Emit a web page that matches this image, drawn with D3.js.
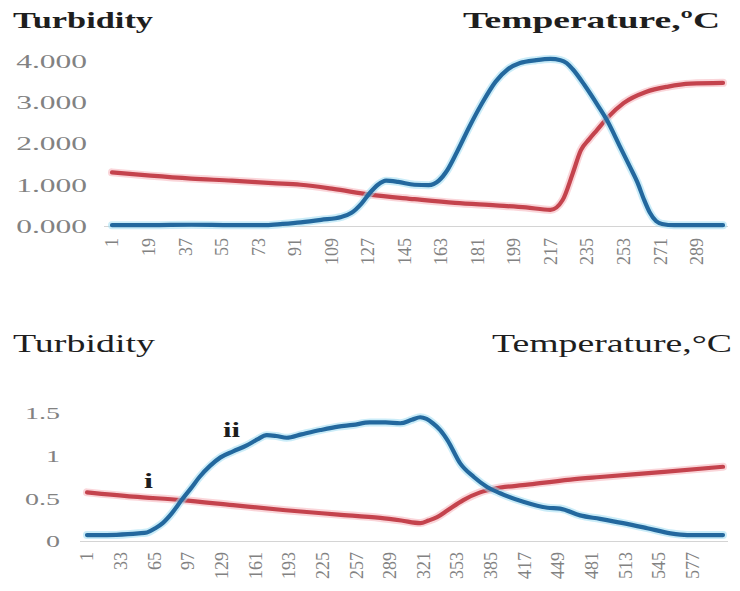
<!DOCTYPE html>
<html><head><meta charset="utf-8">
<script src="https://cdn.jsdelivr.net/npm/d3@7/dist/d3.min.js"></script>
<style>body{margin:0;background:#fff;} svg{display:block;}</style>
</head><body>
<svg id="c" width="740" height="591"></svg>
<script>
// ---------- DATA ----------
// Top chart
const topXTicks = [1,19,37,55,73,91,109,127,145,163,181,199,217,235,253,271,289];
const topYTicks = [0,1,2,3,4];
const topYLabels = ["0.000","1.000","2.000","3.000","4.000"];
const topTurbidity = [[1,0.02],[20,0.02],[40,0.03],[60,0.02],[77,0.02],[85,0.05],[94,0.09],[104,0.15],[114,0.22],[119,0.32],[124,0.55],[128,0.8],[132,1.0],[136,1.1],[142,1.07],[150,1.0],[157,0.99],[162,1.1],[166,1.34],[171,1.8],[177,2.4],[183,2.95],[190,3.5],[196,3.8],[202,3.95],[210,4.02],[217,4.05],[222,4.02],[225,3.95],[228,3.8],[234,3.4],[240,2.95],[245,2.55],[251,1.95],[256,1.45],[260,1.04],[263,0.65],[266,0.32],[269,0.12],[272,0.05],[278,0.02],[302,0.02]];
const topTemperature = [[1,1.3],[20,1.22],[40,1.15],[60,1.1],[80,1.04],[94,1.0],[110,0.9],[128,0.76],[150,0.65],[170,0.56],[190,0.5],[205,0.45],[217,0.39],[223,0.63],[228,1.28],[232,1.84],[236,2.1],[240,2.33],[245,2.62],[253,2.98],[264,3.25],[275,3.38],[286,3.45],[302,3.47]];
// Bottom chart
const botXTicks = [1,33,65,97,129,161,193,225,257,289,321,353,385,417,449,481,513,545,577];
const botYTicks = [0,0.5,1,1.5];
const botYLabels = ["0","0.5","1","1.5"];
const botTurbidity = [[1,0.07],[20,0.07],[40,0.08],[50,0.09],[58,0.1],[66,0.15],[73,0.21],[82,0.33],[91,0.48],[100,0.62],[108,0.75],[118,0.88],[128,0.98],[140,1.05],[153,1.12],[163,1.19],[172,1.24],[181,1.23],[191,1.21],[205,1.25],[223,1.3],[240,1.34],[254,1.36],[270,1.39],[285,1.39],[299,1.38],[310,1.42],[318,1.45],[324,1.43],[330,1.38],[337,1.3],[344,1.18],[356,0.91],[369,0.75],[382,0.63],[394,0.56],[416,0.46],[439,0.39],[451,0.38],[470,0.3],[489,0.26],[511,0.21],[534,0.15],[556,0.09],[572,0.07],[606,0.07]];
const botTemperature = [[1,0.57],[45,0.52],[91,0.48],[140,0.42],[190,0.36],[240,0.31],[280,0.27],[300,0.24],[318,0.21],[326,0.24],[334,0.28],[344,0.36],[359,0.48],[375,0.57],[387,0.61],[420,0.66],[461,0.72],[489,0.75],[550,0.81],[606,0.87]];

// ---------- DRAW ----------
const svg = d3.select("#c");
const BLUE="#23689e", BLUEH="#9fdcf2", RED="#c4434d", REDH="#f5b3ba";
const TICKC="#828282", TITLEC="#1e1e1e";
const STRETCH = 1.75;

function stretchText(sel, factor, anchorRight){
  sel.each(function(){
    const t=d3.select(this);
    const w=this.getComputedTextLength();
    t.attr("textLength", w*factor).attr("lengthAdjust","spacingAndGlyphs");
    if(anchorRight!==undefined){
      t.attr("text-anchor","start").attr("x", anchorRight - w*factor);
    }
  });
}

function title(x, y, txt, size, weight, width){
  const t=svg.append("text").attr("x",x).attr("y",y).text(txt)
    .attr("font-family","'Liberation Serif','DejaVu Serif',serif")
    .attr("font-size",size).attr("font-weight",weight).attr("fill",TITLEC);
  t.attr("textLength",width).attr("lengthAdjust","spacingAndGlyphs");
  return t;
}

function chart(cfg){
  const x=d3.scaleLinear().domain(cfg.xDomain).range(cfg.xRange);
  const y=d3.scaleLinear().domain(cfg.yDomain).range(cfg.yRange);
  const g=svg.append("g");
  // axis line
  g.append("line").attr("x1",cfg.axisX[0]).attr("x2",cfg.axisX[1])
    .attr("y1",y(0)+0.5).attr("y2",y(0)+0.5).attr("stroke","#d4d4d4").attr("stroke-width",1);
  // x axis
  const xa=g.append("g").attr("transform",`translate(0,${y(0)})`)
    .call(d3.axisBottom(x).tickValues(cfg.xTicks).tickSize(0).tickFormat(d3.format("d")));
  xa.select(".domain").remove();
  xa.selectAll("text")
    .attr("font-family","'Liberation Serif',serif").attr("font-size",18).attr("fill",TICKC)
    .attr("transform","rotate(-90)").attr("text-anchor","end")
    .attr("x",-cfg.xLabelGap).attr("y",0).attr("dy","0.33em");
  // y axis
  const ya=g.append("g").attr("transform",`translate(${cfg.yLabelRight},0)`)
    .call(d3.axisLeft(y).tickValues(cfg.yTicks).tickSize(0).tickFormat((d,i)=>cfg.yLabels[i]));
  ya.select(".domain").remove();
  ya.selectAll("text")
    .attr("font-family","'Liberation Serif',serif").attr("font-size",cfg.yFont).attr("fill",TICKC)
    .attr("dy","0.36em");
  stretchText(ya.selectAll("text"), STRETCH, 0);
  // lines
  const line=d3.line().x(d=>x(d[0])).y(d=>y(d[1])).curve(d3.curveMonotoneX);
  [[cfg.temp,REDH,RED],[cfg.turb,BLUEH,BLUE]].forEach(([data,h,c])=>{
    g.append("path").datum(data).attr("d",line).attr("fill","none")
      .attr("stroke",h).attr("stroke-width",8).attr("stroke-opacity",0.55)
      .attr("stroke-linejoin","round").attr("stroke-linecap","round");
    g.append("path").datum(data).attr("d",line).attr("fill","none")
      .attr("stroke",c).attr("stroke-width",4.2)
      .attr("stroke-linejoin","round").attr("stroke-linecap","round");
  });
  return {x,y};
}

chart({xDomain:[1,302], xRange:[112,723], yDomain:[0,4], yRange:[226,61],
  axisX:[104,728], xTicks:topXTicks, yTicks:topYTicks, yLabels:topYLabels,
  yLabelRight:87, yFont:18, xLabelGap:12, turb:topTurbidity, temp:topTemperature});

chart({xDomain:[1,606], xRange:[87,723], yDomain:[0,1.5], yRange:[541,413],
  axisX:[80,728], xTicks:botXTicks, yTicks:botYTicks, yLabels:botYLabels,
  yLabelRight:60, yFont:16, xLabelGap:11, turb:botTurbidity, temp:botTemperature});

// titles
title(13, 28, "Turbidity", 24, "bold", 140);
title(463, 28, "Temperature,ºC", 24, "bold", 257);
title(13, 352, "Turbidity", 25, "normal", 142);
title(492, 352, "Temperature,°C", 25, "normal", 240);

// curve labels
title(223, 437, "ii", 20, "bold", 17);
title(144, 488, "i", 20, "bold", 9);
</script>
</body></html>
